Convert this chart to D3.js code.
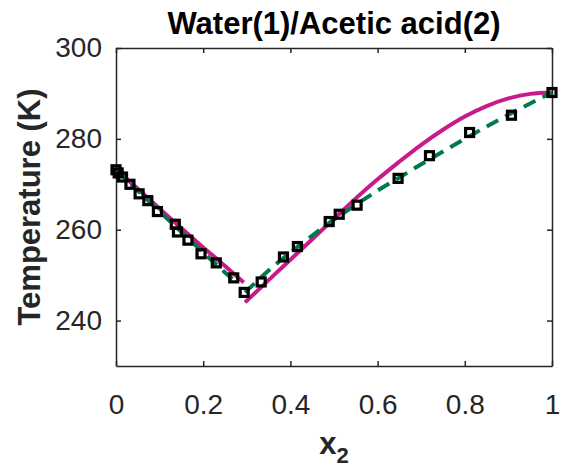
<!DOCTYPE html>
<html>
<head>
<meta charset="utf-8">
<script src="https://cdn.jsdelivr.net/npm/d3@7"></script>
<style>
  html, body { margin: 0; padding: 0; background: #fff; }
  svg { display: block; font-family: "Liberation Sans", Arial, sans-serif; }
</style>
</head>
<body>
<svg id="chart" width="565" height="471"></svg>
<script>
// Solid-liquid equilibrium of water(1) / acetic acid(2)

// Experimental points
const expX = [0.000, 0.005, 0.015, 0.032, 0.053, 0.073, 0.095, 0.136, 0.141, 0.165, 0.195, 0.230, 0.270, 0.294,
              0.333, 0.384, 0.416, 0.489, 0.512, 0.553, 0.647, 0.719, 0.811, 0.907, 1.000];
const expT = [273.2, 272.5, 271.6, 270.0, 267.9, 266.4, 264.0, 261.2, 259.5, 257.7, 254.7, 252.7, 249.4, 246.2,
              248.5, 254.0, 256.3, 261.8, 263.4, 265.4, 271.3, 276.3, 281.4, 285.2, 290.2];

// Model 1 (solid magenta): water-rich branch and acid-rich branch
const model1LeftX  = [0.000, 0.050, 0.100, 0.150, 0.200, 0.250, 0.293];
const model1LeftT  = [273.3, 269.0, 264.6, 260.3, 256.1, 252.0, 248.4];
const model1RightX = [0.296, 0.350, 0.400, 0.450, 0.500, 0.550, 0.600, 0.650, 0.700, 0.750, 0.800, 0.850, 0.900, 0.950, 1.000];
const model1RightT = [244.0, 248.9, 253.4, 257.9, 262.4, 266.9, 271.1, 275.0, 278.7, 282.0, 284.9, 287.2, 288.9, 289.9, 290.2];

// Model 2 (dashed green)
const model2LeftX  = [0.000, 0.050, 0.100, 0.150, 0.200, 0.250, 0.273];
const model2LeftT  = [273.3, 268.6, 264.0, 259.5, 255.0, 250.6, 248.6];
const model2RightX = [0.296, 0.350, 0.400, 0.450, 0.500, 0.550, 0.600, 0.650, 0.700, 0.750, 0.800, 0.850, 0.900, 0.950, 1.000];
const model2RightT = [246.2, 251.0, 255.0, 258.7, 262.2, 265.5, 268.6, 271.5, 274.4, 277.2, 280.0, 282.7, 285.3, 287.8, 290.2];

// Axis ticks and labels
const xTicks = [0, 0.2, 0.4, 0.6, 0.8, 1];
const yTicks = [240, 260, 280, 300];
const titleText = "Water(1)/Acetic acid(2)";
const yLabelText = "Temperature (K)";

const svg = d3.select("#chart");
const plot = { left: 116, right: 552, top: 48, bottom: 366 };

const x = d3.scaleLinear().domain([0, 1]).range([plot.left, plot.right]);
const y = d3.scaleLinear().domain([230, 300]).range([plot.bottom, plot.top]);

const axisColor = "#262626";
const tickFont = 28;

function styleAxis(g) {
  g.selectAll(".domain").attr("stroke", axisColor).attr("stroke-width", 1.5);
  g.selectAll(".tick line").attr("stroke", axisColor).attr("stroke-width", 1.5);
  g.selectAll(".tick text").attr("fill", axisColor).attr("font-size", tickFont)
    .attr("font-family", "'Liberation Sans', Arial, sans-serif");
}

const fmt = d => d3.format("~g")(d);

svg.append("g").attr("transform", `translate(0,${plot.bottom})`)
  .call(d3.axisBottom(x).tickValues(xTicks).tickFormat(fmt).tickSizeInner(-5).tickSizeOuter(0).tickPadding(28))
  .call(styleAxis);
svg.append("g").attr("transform", `translate(0,${plot.top})`)
  .call(d3.axisTop(x).tickValues(xTicks).tickFormat("").tickSizeInner(-5).tickSizeOuter(0))
  .call(styleAxis);
svg.append("g").attr("transform", `translate(${plot.left},0)`)
  .call(d3.axisLeft(y).tickValues(yTicks).tickSizeInner(-5).tickSizeOuter(0).tickPadding(14))
  .call(styleAxis);
svg.append("g").attr("transform", `translate(${plot.right},0)`)
  .call(d3.axisRight(y).tickValues(yTicks).tickFormat("").tickSizeInner(-5).tickSizeOuter(0))
  .call(styleAxis);

// Curves
const line = d3.line().x(d => x(d[0])).y(d => y(d[1])).curve(d3.curveMonotoneX);
const zip = (a, b) => a.map((v, i) => [v, b[i]]);

const magenta = "#C71B8B";
const green = "#00794B";

[[model1LeftX, model1LeftT], [model1RightX, model1RightT]].forEach(([xs, ts]) => {
  svg.append("path").datum(zip(xs, ts))
    .attr("d", line).attr("fill", "none")
    .attr("stroke", magenta).attr("stroke-width", 4);
});
[[model2LeftX, model2LeftT], [model2RightX, model2RightT]].forEach(([xs, ts]) => {
  svg.append("path").datum(zip(xs, ts))
    .attr("d", line).attr("fill", "none")
    .attr("stroke", green).attr("stroke-width", 4)
    .attr("stroke-dasharray", "13,8");
});

// Experimental markers: hollow squares
const s = 8;
svg.append("g").selectAll("rect").data(zip(expX, expT)).join("rect")
  .attr("x", d => x(d[0]) - s / 2).attr("y", d => y(d[1]) - s / 2)
  .attr("width", s).attr("height", s)
  .attr("fill", "none").attr("stroke", "#000").attr("stroke-width", 3.2);

// Title
svg.append("text").attr("x", (plot.left + plot.right) / 2).attr("y", 34)
  .attr("text-anchor", "middle").attr("font-size", 31).attr("font-weight", "bold")
  .attr("fill", "#000").text(titleText);

// Y label
svg.append("text")
  .attr("transform", `translate(40,${(plot.top + plot.bottom) / 2}) rotate(-90)`)
  .attr("text-anchor", "middle").attr("font-size", 31).attr("font-weight", "bold")
  .attr("fill", axisColor).text(yLabelText);

// X label with subscript
const xl = svg.append("text").attr("x", (plot.left + plot.right) / 2).attr("y", 454)
  .attr("text-anchor", "middle").attr("font-size", 31).attr("font-weight", "bold")
  .attr("fill", axisColor);
xl.append("tspan").text("x");
xl.append("tspan").attr("font-size", 22).attr("dy", 9).text("2");
</script>
</body>
</html>
